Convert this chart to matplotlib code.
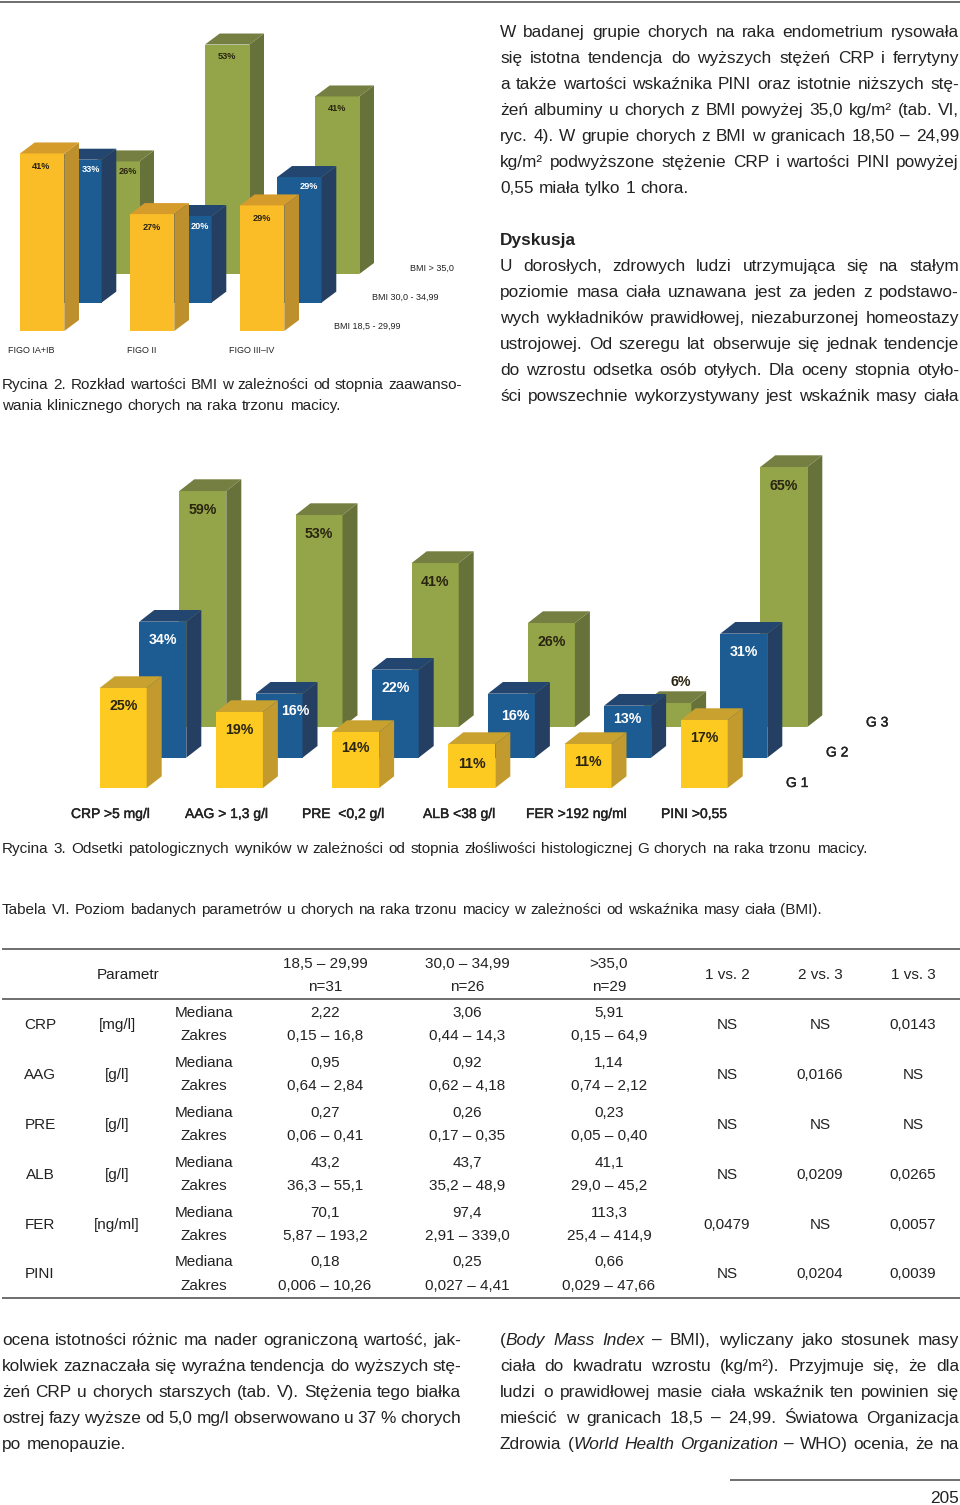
import matplotlib
matplotlib.use("Agg")
import matplotlib.pyplot as plt
import matplotlib.patheffects as pe
import numpy as np
from matplotlib.font_manager import FontProperties

plt.rcParams['font.family'] = ['Liberation Sans', 'DejaVu Sans']

W, H = 960, 1505
TXT = '#222222'

# Rycina 2
figo_labels = ["FIGO IA+IB", "FIGO II", "FIGO III\u2013IV"]
bmi_labels = ["BMI 18,5 - 29,99", "BMI 30,0 - 34,99", "BMI > 35,0"]
bmi_low = [41, 27, 29]
bmi_mid = [33, 20, 29]
bmi_high = [26, 53, 41]

# Rycina 3
lab_labels = ["CRP >5 mg/l", "AAG > 1,3 g/l", "PRE  <0,2 g/l", "ALB <38 g/l", "FER >192 ng/ml", "PINI >0,55"]
grade_labels = ["G 1", "G 2", "G 3"]
g1 = [25, 19, 14, 11, 11, 17]
g2 = [34, 16, 22, 16, 13, 31]
g3 = [59, 53, 41, 26, 6, 65]

# Tabela VI
table_params = ["CRP", "AAG", "PRE", "ALB", "FER", "PINI"]
table_units = ["[mg/l]", "[g/l]", "[g/l]", "[g/l]", "[ng/ml]", ""]
median_a = ["2,22", "0,95", "0,27", "43,2", "70,1", "0,18"]
range_a = ["0,15 \u2013 16,8", "0,64 \u2013 2,84", "0,06 \u2013 0,41", "36,3 \u2013 55,1", "5,87 \u2013 193,2", "0,006 \u2013 10,26"]
median_b = ["3,06", "0,92", "0,26", "43,7", "97,4", "0,25"]
range_b = ["0,44 \u2013 14,3", "0,62 \u2013 4,18", "0,17 \u2013 0,35", "35,2 \u2013 48,9", "2,91 \u2013 339,0", "0,027 \u2013 4,41"]
median_c = ["5,91", "1,14", "0,23", "41,1", "113,3", "0,66"]
range_c = ["0,15 \u2013 64,9", "0,74 \u2013 2,12", "0,05 \u2013 0,40", "29,0 \u2013 45,2", "25,4 \u2013 414,9", "0,029 \u2013 47,66"]
p_12 = ["NS", "NS", "NS", "NS", "0,0479", "NS"]
p_23 = ["NS", "0,0166", "NS", "0,0209", "NS", "0,0204"]
p_13 = ["0,0143", "NS", "NS", "0,0265", "0,0057", "0,0039"]

# _ toggles italics, last value is the right edge of the line in pixels
text_top = [
    ("W badanej grupie chorych na raka endometrium rysowała", 959),
    ("się istotna tendencja do wyższych stężeń CRP i ferrytyny", 959),
    ("a także wartości wskaźnika PINI oraz istotnie niższych stę-", 959),
    ("żeń albuminy u chorych z BMI powyżej 35,0 kg/m² (tab. VI,", 959),
    ("ryc. 4). W grupie chorych z BMI w granicach 18,50 – 24,99", 959),
    ("kg/m² podwyższone stężenie CRP i wartości PINI powyżej", 959),
    ("0,55 miała tylko 1 chora.", 688),
]
text_disc = [
    ("U dorosłych, zdrowych ludzi utrzymująca się na stałym", 959),
    ("poziomie masa ciała uznawana jest za jeden z podstawo-", 959),
    ("wych wykładników prawidłowej, niezaburzonej homeostazy", 959),
    ("ustrojowej. Od szeregu lat obserwuje się jednak tendencje", 959),
    ("do wzrostu odsetka osób otyłych. Dla oceny stopnia otyło-", 959),
    ("ści powszechnie wykorzystywany jest wskaźnik masy ciała", 959),
]
text_left = [
    ("ocena istotności różnic ma nader ograniczoną wartość, jak-", 461),
    ("kolwiek zaznaczała się wyraźna tendencja do wyższych stę-", 461),
    ("żeń CRP u chorych starszych (tab. V). Stężenia tego białka", 461),
    ("ostrej fazy wyższe od 5,0 mg/l obserwowano u 37 % chorych", 461),
    ("po menopauzie.", 126),
]
text_right = [
    ("(_Body Mass Index_ – BMI), wyliczany jako stosunek masy", 959),
    ("ciała do kwadratu wzrostu (kg/m²). Przyjmuje się, że dla", 959),
    ("ludzi o prawidłowej masie ciała wskaźnik ten powinien się", 959),
    ("mieścić w granicach 18,5 – 24,99. Światowa Organizacja", 959),
    ("Zdrowia (_World Health Organization_ – WHO) ocenia, że na", 959),
]

fig = plt.figure(figsize=(W / 100, H / 100), dpi=100, facecolor='white')

def chart_axes(top, base, scale):
    # y axis is in percent, x axis in page pixels
    ax = fig.add_axes([0, 1 - base / H, 1, (base - top) / H])
    ax.set_xlim(0, W)
    ax.set_ylim(0, (base - top) / scale)
    ax.axis('off')
    return ax

def draw_row(ax, values, left, step, width, rise, dx, dy, colors, scale, zorder):
    xs = left + step * np.arange(len(values))
    bottom = rise / scale
    depth = dy / scale
    front, side, cap = colors
    ax.bar(xs, values, width=width, bottom=bottom, align='edge', color=front, zorder=zorder)
    for x, v in zip(xs, values):
        ax.fill([x + width, x + width + dx, x + width + dx, x + width],
                [bottom, bottom + depth, bottom + v + depth, bottom + v], color=side, lw=0, zorder=zorder)
        ax.fill([x, x + dx, x + width + dx, x + width],
                [bottom + v, bottom + v + depth, bottom + v + depth, bottom + v], color=cap, lw=0, zorder=zorder)

def bar_labels(ax, values, left, step, width, rise, scale, size, color, below, nudges, zorder):
    xs = left + step * np.arange(len(values))
    for i, (x, v) in enumerate(zip(xs, values)):
        nx, ny = nudges.get(i, (0, 0))
        ax.text(x + width / 2 + nx, (rise - below - ny) / scale + v, f"{v}%", ha='center', va='center',
                fontsize=size, fontweight='bold', color=color, zorder=zorder)

YELLOW_A = ('#FBBD27', '#BE8F2D', '#D69C2B')
YELLOW_B = ('#FDCA22', '#C29A2E', '#C9A12F')
BLUE = ('#1D5C93', '#253F62', '#234670')
GREEN = ('#93A548', '#66723A', '#747F41')
LABEL_DARK = '#2a2410'

# Rycina 2
scale2 = 4.33
ax2 = chart_axes(20, 331, scale2)
for z, (vals, left, rise, cols, tcol, below, nudge) in enumerate([
    (bmi_high, 95, 57, GREEN, LABEL_DARK, 12, {0: (11, -2)}),
    (bmi_mid, 57.3, 28.4, BLUE, 'white', 9.5, {0: (11, 0), 1: (10, 1), 2: (9, 0)}),
    (bmi_low, 20, 0, YELLOW_A, LABEL_DARK, 13.5, {0: (-1, 0)}),
]):
    draw_row(ax2, vals, left, 110, 44.3, rise, 14.7, 11, cols, scale2, z * 2 + 1)
    bar_labels(ax2, vals, left, 110, 44.3, rise, scale2, 6.6, tcol, below, nudge, z * 2 + 2)

# Rycina 3
scale3 = 4.0
ax3 = chart_axes(450, 788, scale3)
for z, (vals, left, rise, cols, tcol, below, nudge) in enumerate([
    (g3, 179.3, 61, GREEN, LABEL_DARK, 19.5, {4: (13, -41)}),
    (g2, 139.3, 30.3, BLUE, 'white', 18, {1: (16, -1), 3: (4, 4), 4: (0, -5)}),
    (g1, 99.7, 0, YELLOW_B, LABEL_DARK, 18, {2: (0, -2), 3: (0, 2)}),
]):
    draw_row(ax3, vals, left, 116.2, 47, rise, 15, 11.7, cols, scale3, z * 2 + 1)
    bar_labels(ax3, vals, left, 116.2, 47, rise, scale3, 10.2, tcol, below, nudge, z * 2 + 2)

# page layer in pixel coordinates, y going down
page = fig.add_axes([0, 0, 1, 1], zorder=10)
page.set_xlim(0, W)
page.set_ylim(H, 0)
page.axis('off')
page.patch.set_alpha(0)

renderer = fig.canvas.get_renderer()

def seg_width(s, size, italic):
    fp = FontProperties(family='Liberation Sans', size=size, style='italic' if italic else 'normal')
    w, _, _ = renderer.get_text_width_height_descent(s, fp, False)
    return w

def put_line(line, x0, right, y, size, weight='normal'):
    words = line.split(' ')
    italic = False
    parsed = []
    for w in words:
        segs = []
        for j, part in enumerate(w.split('_')):
            if j > 0:
                italic = not italic
            if part:
                segs.append((part, italic))
        parsed.append(segs)
    widths = [sum(seg_width(s, size, it) for s, it in segs) for segs in parsed]
    gap = (right - x0 - sum(widths)) / max(len(words) - 1, 1)
    x = x0
    for segs, wd in zip(parsed, widths):
        px = x
        for s, it in segs:
            page.text(px, y, s, fontsize=size, style='italic' if it else 'normal', weight=weight,
                      color=TXT, ha='left', va='baseline')
            px += seg_width(s, size, it)
        x += wd + gap

BODY = 12.4
def put_block(lines, x0, y0, size=BODY, lead=26):
    for i, (line, right) in enumerate(lines):
        put_line(line, x0, right, y0 + i * lead, size)

put_block(text_top, 500, 37)
page.text(500, 245, "Dyskusja", fontsize=BODY, fontweight='bold', color=TXT, ha='left', va='baseline')
put_block(text_disc, 500, 271)
put_block(text_left, 2, 1345)
put_block(text_right, 500, 1345)

CAP = 11
put_line("Rycina 2. Rozkład wartości BMI w zależności od stopnia zaawanso-", 2, 462, 389, CAP)
put_line("wania klinicznego chorych na raka trzonu macicy.", 2, 340, 410, CAP)
put_line("Rycina 3. Odsetki patologicznych wyników w zależności od stopnia złośliwości histologicznej G chorych na raka trzonu macicy.", 2, 867, 853, CAP)
put_line("Tabela VI. Poziom badanych parametrów u chorych na raka trzonu macicy w zależności od wskaźnika masy ciała (BMI).", 2, 822, 914, CAP)

# chart axis texts, a thin stroke gives the medium weight of the scan
def axis_text(x, y, s, size, width):
    t = page.text(x, y, s, fontsize=size, color='#222222', ha='left', va='center')
    if width:
        t.set_path_effects([pe.withStroke(linewidth=width, foreground='#222222')])

for s, x in zip(figo_labels, [8, 127, 229]):
    axis_text(x, 350.5, s, 6.5, 0)
for s, x, y in zip(bmi_labels, [334, 372, 410], [326, 297.5, 268.5]):
    axis_text(x, y, s, 6.5, 0)
for s, x in zip(lab_labels, [71, 185, 302, 423, 526, 661]):
    axis_text(x, 814, s, 10, 0.3)
for s, x, y in zip(grade_labels, [786, 826, 866], [783, 752.5, 722.5]):
    axis_text(x, y, s, 10, 0.3)

# table
TAB = 11
def cell(x, y, s):
    page.text(x, y + 1, s, fontsize=TAB, color=TXT, ha='center', va='center')

for y, x0, x1, lw in [(2, 0, W, 1.2), (949, 2, W, 1.2), (998.5, 2, W, 1.2), (1297.5, 2, W, 1.2), (1480, 730, W, 1.2)]:
    page.plot([x0, x1], [y, y], color='#555555', lw=lw, solid_capstyle='butt')

cell(128, 974, "Parametr")
for x, top_s, n_s in [(325, "18,5 – 29,99", "n=31"), (467, "30,0 – 34,99", "n=26"), (609, ">35,0", "n=29")]:
    cell(x, 963, top_s)
    cell(x, 986, n_s)
for x, s in [(727, "1 vs. 2"), (820, "2 vs. 3"), (913, "1 vs. 3")]:
    cell(x, 974, s)

for i in range(len(table_params)):
    mid = 1024 + 49.9 * i
    cell(40, mid, table_params[i])
    if table_units[i]:
        cell(117, mid, table_units[i])
    cell(204, mid - 12, "Mediana")
    cell(204, mid + 11.5, "Zakres")
    for x, med, rng in [(325, median_a, range_a), (467, median_b, range_b), (609, median_c, range_c)]:
        cell(x, mid - 12, med[i])
        cell(x, mid + 11.5, rng[i])
    for x, col in [(727, p_12), (820, p_23), (913, p_13)]:
        cell(x, mid, col[i])

page.text(959, 1503, "205", fontsize=BODY, color=TXT, ha='right', va='baseline')

fig.savefig("out.png", dpi=100)
